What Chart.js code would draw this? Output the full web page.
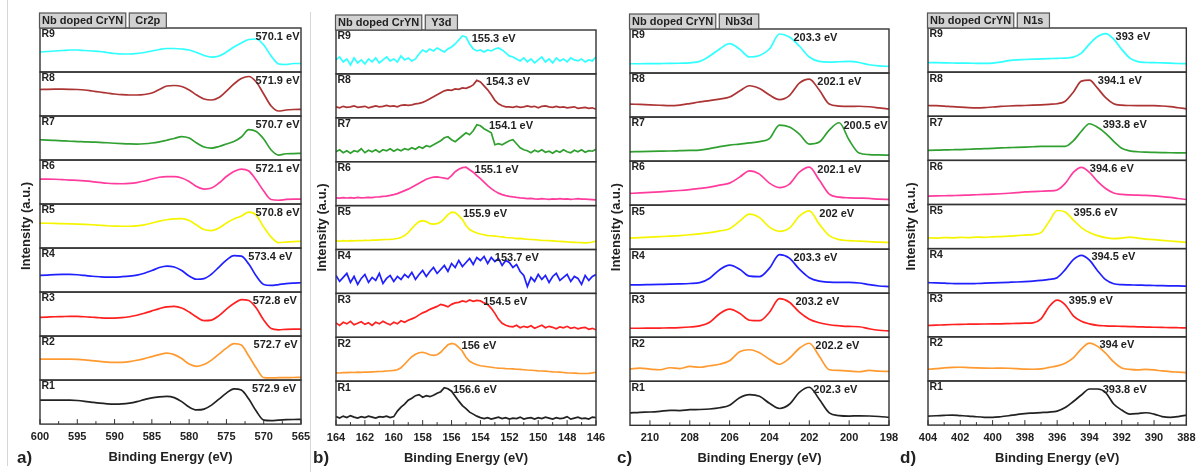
<!DOCTYPE html>
<html>
<head>
<meta charset="utf-8">
<title>Nb doped CrYN - XPS core levels</title>
<script src="https://cdn.jsdelivr.net/npm/chart.js@4.4.1/dist/chart.umd.min.js"></script>
<style>
  html, body { margin: 0; padding: 0; background: #fff; }
  #wrap { position: relative; width: 1202px; height: 472px; overflow: hidden; background: #fff; }
  #wrap canvas { position: absolute; left: 0; top: 0; }
  .sep { position: absolute; width: 1px; background: #d6d6d6; }
</style>
</head>
<body>
<div id="wrap">
  <div class="sep" style="left:7px; top:0; height:466px;"></div>
  <div class="sep" style="left:310px; top:12px; height:460px;"></div>
  <canvas id="cr2pChart" width="1202" height="472"></canvas>
  <canvas id="y3dChart" width="1202" height="472"></canvas>
  <canvas id="nb3dChart" width="1202" height="472"></canvas>
  <canvas id="n1sChart" width="1202" height="472"></canvas>
</div>
<script>
// Sample names and line colours, bottom (R1) to top (R9)
const runLabels = ['R1', 'R2', 'R3', 'R4', 'R5', 'R6', 'R7', 'R8', 'R9'];
const runColors = ['#222222', '#ff9a30', '#ff2020', '#2020ff', '#f5f500', '#ff3c9e', '#30a030', '#ad3434', '#30ffff'];

// ---- a) Cr2p ----
const cr2pEnergy = [600, 599, 598, 597, 596, 595, 594, 593, 592, 591, 590, 589, 588, 587, 586, 585, 584, 583,
  582, 581, 580, 579, 578, 577, 576, 575, 574, 573, 572, 571, 570, 569, 568, 567, 566, 565];
const cr2pPeaks = [572.9, 572.7, 572.8, 573.4, 570.8, 572.1, 570.7, 571.9, 570.1];
const cr2pSeries = [
  [24, 24, 24, 24, 24, 23.6, 22.8, 21.8, 20.9, 20.3, 20, 20.2, 21, 22.5, 24.5, 26.3, 27.3, 27.8, 26.5, 22.5, 17, 14.2, 15, 19, 25, 31, 35.3, 34, 25, 13, 4, 3.5, 4, 4.4, 4.6, 4.7],
  [21, 21, 21, 21, 21, 20.8, 20.3, 19.5, 18.7, 18, 17.7, 17.8, 18.5, 19.8, 21.5, 23.5, 25.5, 27, 25.5, 21.5, 16, 13.8, 15.5, 20, 26, 32, 36.5, 35, 24, 12, 2.5, 2.2, 2.4, 2.5, 2.6, 2.7],
  [18.7, 19, 19.3, 19.5, 19.7, 19.6, 19.3, 18.8, 18.3, 18, 18, 18.4, 19.3, 20.8, 22.8, 25.2, 27.5, 29.2, 29.6, 28, 24, 19, 15.5, 16, 20.5, 27, 32.5, 36.5, 35.5, 28, 16, 7.5, 6.3, 6.8, 7, 7],
  [16.6, 17, 17.4, 17.6, 17.6, 17.3, 16.6, 15.8, 15.3, 15, 15, 15.4, 16, 17, 18.8, 21.5, 24.5, 26, 25, 21.5, 16, 12.8, 13.5, 18, 25, 32, 36.5, 36, 28, 16, 7.5, 6.6, 7.5, 8.5, 9, 9.3],
  [25, 24.8, 24.6, 24.4, 24.2, 24, 23.7, 23.3, 22.8, 22.3, 22, 21.8, 21.8, 22.2, 23.2, 25, 27, 28.3, 29.2, 29.5, 27.5, 23, 18.5, 17.5, 20, 25, 29, 32, 36, 33, 21, 11, 5.5, 6, 6.5, 6.7],
  [25, 25, 24.8, 24.4, 24, 23.7, 23.2, 22.5, 21.6, 20.8, 20.4, 20.3, 20.6, 21.5, 23, 25, 26.8, 27.4, 27.4, 26, 22.5, 17.5, 15, 16, 21, 27.5, 32.5, 35, 33, 24, 13, 4.5, 3.8, 4.6, 5, 5],
  [20.3, 20, 19.6, 19.2, 18.8, 18.5, 18.2, 17.9, 17.7, 17.3, 16.8, 16.4, 16.1, 16, 16.3, 17, 18.2, 19.8, 21.5, 23.5, 22, 17, 13, 12, 13.5, 16, 18.5, 23, 30.5, 28.5, 21, 10, 5, 6.3, 6.5, 6.7],
  [26.5, 26.7, 26.8, 26.8, 26.7, 26.5, 26, 25, 24, 23, 22, 21.3, 21, 21, 21.5, 23, 26.5, 30, 30.5, 29.5, 26, 21, 17, 16, 18.5, 25, 32, 37.5, 39.5, 34, 22, 10, 5, 6, 6.5, 6.7],
  [20, 20.5, 21, 21.5, 22, 22, 21.5, 21, 20.5, 19.5, 18.5, 18, 18, 18.5, 19.5, 21, 22.5, 23.5, 23.5, 23, 22, 19.5, 16.5, 14.8, 16, 20, 25, 29, 32.5, 33, 27, 16, 8, 7.5, 8.5, 8.5]
];

// ---- b) Y3d ----
const y3dEnergy = [164, 163.75, 163.5, 163.25, 163, 162.75, 162.5, 162.25, 162, 161.75, 161.5, 161.25, 161, 160.75,
  160.5, 160.25, 160, 159.75, 159.5, 159.25, 159, 158.75, 158.5, 158.25, 158, 157.75, 157.5, 157.25, 157, 156.75,
  156.5, 156.25, 156, 155.75, 155.5, 155.25, 155, 154.75, 154.5, 154.25, 154, 153.75, 153.5, 153.25, 153, 152.75,
  152.5, 152.25, 152, 151.75, 151.5, 151.25, 151, 150.75, 150.5, 150.25, 150, 149.75, 149.5, 149.25, 149, 148.75,
  148.5, 148.25, 148, 147.75, 147.5, 147.25, 147, 146.75, 146.5, 146.25, 146];
const y3dPeaks = [156.6, 156, 154.5, 153.7, 155.9, 155.1, 154.1, 154.3, 155.3];
const y3dSeries = [
  [8.5, 7, 9, 7.5, 9.5, 8, 7, 8.5, 7.5, 9, 8, 7, 8.5, 8, 9, 7.5, 8.5, 14, 18, 21, 25, 27, 29.5, 30.5, 28, 29.5, 28.5, 30, 32, 33.5, 37.5, 36.5, 34, 29, 24, 19.5, 16.5, 13, 11, 9, 7.5, 6.5, 7.5, 6, 7, 8, 6.5, 7.5, 6, 7, 6.5, 8, 6, 7, 7.5, 6, 7.5, 6.5, 8, 7, 6, 7.5, 6.5, 7, 8.5, 6, 7, 8, 6.5, 7, 6, 8, 7.5],
  [8.4, 8.2, 8.6, 8.5, 8.8, 8.7, 9, 8.9, 9.2, 9.1, 9.4, 9.5, 9.7, 9.9, 10.2, 10.5, 10.8, 11.5, 13.5, 17, 21, 24.5, 27, 28.5, 29, 28, 26.5, 25.8, 26.5, 29, 33, 36.5, 37.8, 37, 34, 30, 24, 20, 18, 16.5, 15.5, 15, 14.5, 14, 13.5, 13.2, 13, 12.7, 12.5, 12.3, 12, 11.8, 11.5, 11.2, 11, 10.7, 10.4, 10.2, 10, 9.7, 9.4, 9.2, 9, 8.7, 8.4, 8.2, 8, 7.8, 7.7, 7.7, 7.9, 8.3, 9],
  [14.5, 12, 15, 13.5, 16, 12.5, 14, 15.5, 13, 14.5, 12, 15, 13.5, 16, 14, 12.5, 15, 13.5, 16.5, 15, 17, 18.5, 20, 22.5, 24.5, 26, 28, 29.5, 31, 33, 32, 30.5, 33, 34.5, 35, 36.5, 35.5, 37.5, 36, 37, 36.5, 34.5, 33, 29, 24, 18, 14, 12, 11, 10.5, 12, 9.5, 11, 10, 11.5, 9, 10.5, 12, 9.5, 11, 10, 8.5, 10.5, 9.5, 11, 9, 10, 8.5, 9.5, 10, 8, 9, 7.5],
  [18, 12, 16, 20, 11, 17, 9, 15, 19, 11, 16, 13, 20, 10, 15, 18, 12, 17, 14, 19, 16, 21, 14, 19, 23, 17, 22, 26, 20, 24, 28, 22, 30, 26, 33, 27, 31, 35, 29, 36, 33, 37, 30, 36, 32, 35, 28, 33, 31, 26, 29, 22, 18, 7, 16, 12, 19, 14, 18, 11, 17, 20, 13, 16, 19, 12, 17, 15, 9, 18, 13, 17, 19],
  [8.6, 8.3, 8.8, 8.5, 8.9, 8.6, 9, 8.8, 9.2, 9, 9.4, 9.3, 9.6, 9.8, 10, 10.2, 10.5, 11, 12, 14, 17, 21, 25, 28, 29, 28, 26, 25.5, 26, 27.5, 31, 35, 37.5, 37, 34, 30, 24, 20, 18, 16.5, 15.5, 14.8, 14, 13.8, 13.5, 13, 12.7, 12, 11.8, 11.5, 11, 11.2, 10.6, 10.3, 10, 9.8, 9.5, 9.2, 9, 8.8, 8.6, 8.3, 8.1, 7.9, 7.6, 7.4, 7.2, 7, 6.8, 6.6, 6.8, 7.5, 8.5],
  [7.7, 7.5, 8, 7.6, 7.9, 7.5, 8.2, 7.8, 8, 8.3, 8, 8.6, 8.8, 9.2, 9.5, 10.2, 11, 12, 13.5, 15, 16.5, 18.5, 20.5, 22.5, 24.5, 26.5, 27.7, 28.5, 28.8, 28.2, 27.5, 26.8, 30, 34, 36.5, 38, 38.5, 36, 33.5, 30, 27, 23.5, 20, 17, 14.5, 12.5, 11, 10, 9.3, 8.7, 8.2, 7.8, 7.5, 7, 7.3, 6.8, 6.5, 7, 6.6, 6.2, 6.7, 6.4, 6.9, 6.5, 6.8, 6.3, 6.6, 7, 6.5, 6.4, 6.2, 6, 5.8],
  [10, 12, 9, 11, 8.5, 11, 10, 13, 9, 11.5, 10, 12, 9.5, 12, 11, 13, 10.5, 12.5, 11, 13, 12, 14, 12.5, 15, 13.5, 16, 15, 17, 19, 21, 24, 25, 22, 20, 23, 26, 29, 27, 31, 37, 36, 33, 31, 29, 17, 18, 17, 19, 21, 22, 18, 14, 12, 11, 9, 11.5, 10, 12, 9.5, 10.5, 8.5, 11, 9.5, 12, 10, 9, 11.5, 10, 12, 9.5, 11, 10.5, 12.5],
  [11, 10, 11.5, 10.5, 11, 12, 10.5, 11, 11.5, 10, 11, 12, 11, 11.5, 12.5, 11.5, 12, 11, 12.5, 13, 12.5, 13, 14, 14.5, 15.5, 17, 19, 21, 23, 25, 27, 28, 27.5, 29, 28.5, 30, 29.5, 31, 33, 37.5, 36, 32, 28, 23, 17.5, 14, 12, 11, 11, 10.5, 11.5, 10.5, 11, 12, 11, 11.5, 10, 11.5, 12, 11, 10.5, 11.5, 10.5, 11, 10, 10.5, 11, 9.5, 10, 10.5, 9.5, 10, 8.5],
  [14, 17, 12, 15, 9, 16, 11, 14, 10, 15, 12, 16, 11, 14, 17, 13, 15, 12, 18, 14, 16, 13, 15, 20, 24, 22, 25, 23, 26, 24, 22, 25, 27, 30, 34, 38, 37, 30, 25, 23, 24, 22, 24, 23, 25, 26, 24, 21, 18, 17, 15, 13, 16, 12, 15, 11, 14, 17, 12, 15, 11, 16, 13, 15, 12, 16, 14, 13, 15, 12, 14, 13, 17]
];

// ---- c) Nb3d ----
const nb3dEnergy = [211, 210.5, 210, 209.5, 209, 208.5, 208, 207.5, 207, 206.5, 206, 205.5, 205, 204.5, 204,
  203.5, 203, 202.5, 202, 201.5, 201, 200.5, 200, 199.5, 199, 198.5, 198];
const nb3dPeaks = [202.3, 202.2, 203.2, 203.3, 202, 202.1, 200.5, 202.1, 203.3];
const nb3dSeries = [
  [12.4, 13, 13.3, 14, 15, 14.7, 15.6, 15.8, 16.3, 17.5, 20, 27.5, 30.7, 29, 22, 16.8, 21, 33, 38, 26, 12.5, 9.7, 9.2, 9.5, 9.3, 8.8, 8],
  [12.4, 13.2, 12.2, 11.5, 13.5, 12.6, 14.8, 14, 15.5, 17, 20.5, 29.5, 31.5, 28.5, 22, 17, 23, 33, 38, 25, 11.5, 10.8, 10.2, 9.5, 10.8, 10.2, 9.8],
  [9, 9, 9.1, 9.2, 9.3, 9.6, 10.2, 11.3, 15, 23.5, 28, 24, 17, 16.5, 25, 38.5, 35, 25, 18, 14.5, 12.5, 11.5, 10.8, 10.5, 8.5, 7, 6.3],
  [8.3, 8.4, 8.6, 8.8, 9, 9.3, 9.7, 10.5, 15, 23.5, 28, 24, 17, 16.5, 25, 38.5, 35, 24, 15.5, 12, 11, 10.8, 10.8, 10.2, 8.5, 7.2, 6.6],
  [11, 11.5, 12, 12.5, 13, 13.6, 14.4, 15.3, 16.5, 18.2, 20.5, 28, 35, 31.5, 22, 17.8, 21, 33, 38.3, 25, 13.5, 9.5, 8.5, 8, 7.5, 7, 6.6],
  [11.7, 12.2, 12.8, 13.3, 13.9, 14.6, 15.5, 16.7, 18, 20, 22, 28, 34.3, 31, 22, 17.5, 21, 33, 38, 25, 11, 8, 7.3, 7, 6.7, 6, 5.7],
  [9.3, 9.5, 9.7, 9.9, 10.1, 10.4, 10.7, 11, 12.5, 14.5, 16, 17, 18.2, 19.5, 22.5, 36, 34, 27, 17, 19, 31, 38.3, 21, 8, 6.5, 6.2, 6],
  [13, 12.6, 12.2, 11.8, 11.4, 12, 13.5, 15.2, 16.5, 18, 20, 26, 31.3, 28.5, 22, 17.5, 21.5, 34, 38, 27, 13, 11, 10.6, 10.8, 10.3, 9.2, 8],
  [9.3, 9.3, 9.4, 9.5, 9.6, 9.8, 10.2, 11.6, 17, 24, 29.3, 24, 16, 17.5, 24, 39, 36, 27, 16, 11.6, 11, 11.3, 11.6, 10.5, 8.3, 7.2, 6.6]
];

// ---- d) N1s ----
const n1sEnergy = [404, 403.5, 403, 402.5, 402, 401.5, 401, 400.5, 400, 399.5, 399, 398.5, 398, 397.5, 397, 396.5,
  396, 395.5, 395, 394.5, 394, 393.5, 393, 392.5, 392, 391.5, 391, 390.5, 390, 389.5, 389, 388.5, 388];
const n1sPeaks = [393.8, 394, 395.9, 394.5, 395.6, 394.6, 393.8, 394.1, 393];
const n1sSeries = [
  [9, 9.3, 9.7, 10, 9.5, 9, 8.3, 7.8, 7.7, 8.3, 9.3, 10.5, 11.5, 12, 12.5, 13, 14, 17.5, 23.5, 30, 36, 36, 32.5, 21, 15, 11, 11.5, 12.3, 11, 8.5, 7.7, 8.5, 10],
  [11.7, 12.3, 13, 13.5, 13.7, 13.3, 13, 12.8, 12.7, 12.8, 12.7, 12.3, 11.8, 11.7, 12, 13.5, 15, 17.7, 23, 32, 37.7, 34.5, 27.7, 19, 13, 11.5, 11, 11.5, 11, 10, 9.3, 8.8, 8.3],
  [11.3, 11.6, 12, 12.3, 12.5, 12.6, 12.7, 12.8, 12.9, 13, 13.2, 13.4, 13.6, 14, 18, 30, 36.6, 32, 21, 15.5, 13, 11.5, 11, 10.7, 10.5, 10.3, 10, 9.8, 9.6, 9.4, 9.2, 9.1, 9],
  [10, 9.8, 9.5, 9.2, 9, 9, 9.2, 9.5, 9.8, 10.1, 10.4, 10.7, 11.1, 11.6, 12.3, 13.3, 15, 23, 33, 37.3, 32.5, 22, 13, 9, 8, 7.8, 7.6, 7.4, 7.2, 7, 6.9, 6.8, 6.6],
  [10.7, 10.5, 11, 10.8, 11.2, 11, 11.5, 11.3, 11.8, 12, 12.4, 13, 13.5, 14, 16, 27, 38, 36.5, 28.5, 21, 16, 13, 11, 10, 10.5, 11.5, 10.5, 9.5, 9, 8.3, 7.6, 7, 6.3],
  [8.3, 8.5, 8.7, 8.9, 9.1, 9.4, 9.7, 10, 10.3, 10.7, 11.2, 11.8, 12.5, 12.9, 13.2, 13.5, 14.5, 21, 32, 37, 32, 23, 16, 11.5, 10, 9.5, 9.3, 9, 8.5, 7.8, 7, 6, 5],
  [10, 10.2, 10.4, 10.6, 10.8, 11.1, 11.4, 11.7, 12, 12.4, 12.7, 13, 13.3, 13.6, 13.9, 14, 14, 14, 19.5, 29, 36.5, 33, 27, 19, 12, 9.5, 8.6, 8.2, 8, 7.8, 7.6, 7.5, 7.4],
  [10.7, 10.5, 10.1, 9.5, 9, 8.6, 8.4, 8.6, 9.2, 9.8, 10.2, 10.5, 10.7, 11, 11.4, 11.9, 12.5, 15, 24, 35, 36, 28, 18.5, 12.5, 11, 10.7, 10.6, 10.6, 10.5, 10.2, 9.5, 8.5, 7.4],
  [9.4, 9.4, 9.3, 9.1, 9, 8.9, 8.8, 8.7, 9, 10, 11.5, 12.3, 12.6, 12.9, 13.2, 13.5, 13.8, 14, 15, 19, 28, 35.5, 38.4, 33, 22.7, 14, 10.5, 9.6, 9.4, 9.3, 9, 8.6, 8.4]
];

Chart.defaults.font.family = "'Liberation Sans', Arial, sans-serif";
Chart.defaults.color = '#222';

const FONT = "'Liberation Sans', Arial, sans-serif";

// Draws the frame of every stacked sub-panel, inner ticks and all the small labels
function panelPlugin(cfg) {
  return {
    id: 'panelDecor',
    afterDatasetsDraw(chart) {
      const ctx = chart.ctx;
      const area = chart.chartArea;
      const xs = chart.scales.x;
      ctx.save();

      // sub-panel boxes
      ctx.strokeStyle = '#333';
      ctx.lineWidth = 1.4;
      for (let i = 0; i < 9; i++) {
        const ys = chart.scales['y' + i];
        ctx.strokeRect(area.left, ys.top, area.right - area.left, ys.bottom - ys.top);
      }

      // inward ticks on the bottom axis
      ctx.lineWidth = 1;
      xs.ticks.forEach(t => {
        const px = xs.getPixelForValue(t.value);
        ctx.beginPath();
        ctx.moveTo(px, area.bottom);
        ctx.lineTo(px, area.bottom - 5);
        ctx.stroke();
        const m = t.value + cfg.minor;
        if (m < cfg.max) {
          const pm = xs.getPixelForValue(m);
          ctx.beginPath();
          ctx.moveTo(pm, area.bottom);
          ctx.lineTo(pm, area.bottom - 3);
          ctx.stroke();
        }
      });

      // run names and peak positions
      ctx.fillStyle = '#222';
      ctx.textBaseline = 'middle';
      for (let i = 0; i < 9; i++) {
        const ys = chart.scales['y' + i];
        ctx.font = 'bold 10.5px ' + FONT;
        ctx.textAlign = 'left';
        ctx.fillText(runLabels[i], area.left + 1.5, ys.top + 6.5);

        ctx.font = 'bold 11px ' + FONT;
        const txt = cfg.peaks[i] + ' eV';
        const w = ctx.measureText(txt).width;
        let x = xs.getPixelForValue(cfg.peaks[i]) + 10;
        if (x + w > area.right - 1.5) x = area.right - 1.5 - w;
        ctx.fillText(txt, x, ys.top + 8.5);
      }

      // tabs above the stack
      ctx.font = 'bold 11px ' + FONT;
      ctx.lineWidth = 1.2;
      ctx.strokeStyle = '#555';
      let tx = area.left - 0.5;
      [['Nb doped CrYN', 2.5], [cfg.tab, 6]].forEach(([label, pad]) => {
        const w = ctx.measureText(label).width + pad * 2;
        const ty = area.top - 15;
        ctx.fillStyle = '#d2d2d2';
        ctx.fillRect(tx, ty, w, 15);
        ctx.strokeRect(tx, ty, w, 15);
        ctx.fillStyle = '#222';
        ctx.textAlign = 'center';
        ctx.fillText(label, tx + w / 2, ty + 8);
        tx += w + 3.5;
      });

      // y axis title
      ctx.save();
      ctx.translate(area.left - cfg.titleGap, (area.top + area.bottom) / 2);
      ctx.rotate(-Math.PI / 2);
      ctx.font = 'bold 13px ' + FONT;
      ctx.textAlign = 'center';
      ctx.fillText('Intensity (a.u.)', 0, 0);
      ctx.restore();

      // panel letter
      ctx.font = 'bold 17px ' + FONT;
      ctx.textAlign = 'left';
      ctx.fillText(cfg.letter, cfg.letterX, 458);

      ctx.restore();
    }
  };
}

function makePanel(canvasId, cfg) {
  const scales = {
    x: {
      type: 'linear',
      reverse: true,
      min: cfg.min,
      max: cfg.max,
      grid: { display: false, drawTicks: false },
      border: { display: false },
      ticks: {
        stepSize: cfg.step,
        includeBounds: false,
        autoSkip: false,
        maxRotation: 0,
        padding: 6.5,
        color: '#222',
        font: { size: 11, weight: 'bold' }
      },
      title: {
        display: true,
        text: 'Binding Energy (eV)',
        color: '#222',
        font: { size: 13, weight: 'bold', lineHeight: 1 },
        padding: { top: 0.5, bottom: 0 }
      }
    }
  };
  for (let i = 0; i < 9; i++) {
    scales['y' + i] = {
      type: 'linear',
      position: 'left',
      stack: 'runs',
      stackWeight: 1,
      weight: i,
      min: 0,
      max: 44,
      ticks: { display: false },
      grid: { display: false, drawTicks: false },
      border: { display: false }
    };
  }

  const datasets = cfg.series.map((vals, i) => ({
    label: runLabels[i],
    data: cfg.energy.map((e, k) => ({ x: e, y: vals[k] })),
    yAxisID: 'y' + i,
    borderColor: runColors[i],
    borderWidth: 1.7,
    pointRadius: 0,
    fill: false,
    tension: cfg.smooth ? 0.4 : 0,
    cubicInterpolationMode: cfg.smooth ? 'monotone' : 'default'
  }));

  return new Chart(document.getElementById(canvasId), {
    type: 'line',
    data: { datasets },
    options: {
      responsive: false,
      animation: false,
      events: [],
      layout: {
        padding: { left: cfg.left, right: 1202 - cfg.right, top: cfg.top, bottom: cfg.padBottom }
      },
      plugins: { legend: { display: false }, tooltip: { enabled: false } },
      scales
    },
    plugins: [panelPlugin(cfg)]
  });
}

makePanel('cr2pChart', {
  energy: cr2pEnergy, series: cr2pSeries, peaks: cr2pPeaks, smooth: true,
  min: 565, max: 600, step: 5, minor: 2.5,
  left: 40, right: 301, top: 28, padBottom: 8.2,
  tab: 'Cr2p', letter: 'a)', letterX: 17, titleGap: 14
});
makePanel('y3dChart', {
  energy: y3dEnergy, series: y3dSeries, peaks: y3dPeaks, smooth: false,
  min: 146, max: 164, step: 2, minor: 1,
  left: 336, right: 596, top: 30, padBottom: 7.2,
  tab: 'Y3d', letter: 'b)', letterX: 313, titleGap: 14
});
makePanel('nb3dChart', {
  energy: nb3dEnergy, series: nb3dSeries, peaks: nb3dPeaks, smooth: true,
  min: 198, max: 211, step: 2, minor: 1,
  left: 630, right: 889, top: 29, padBottom: 7,
  tab: 'Nb3d', letter: 'c)', letterX: 617, titleGap: 14
});
makePanel('n1sChart', {
  energy: n1sEnergy, series: n1sSeries, peaks: n1sPeaks, smooth: true,
  min: 388, max: 404, step: 2, minor: 1,
  left: 928, right: 1188, top: 28, padBottom: 7.2,
  tab: 'N1s', letter: 'd)', letterX: 900, titleGap: 17
});
</script>
</body>
</html>
